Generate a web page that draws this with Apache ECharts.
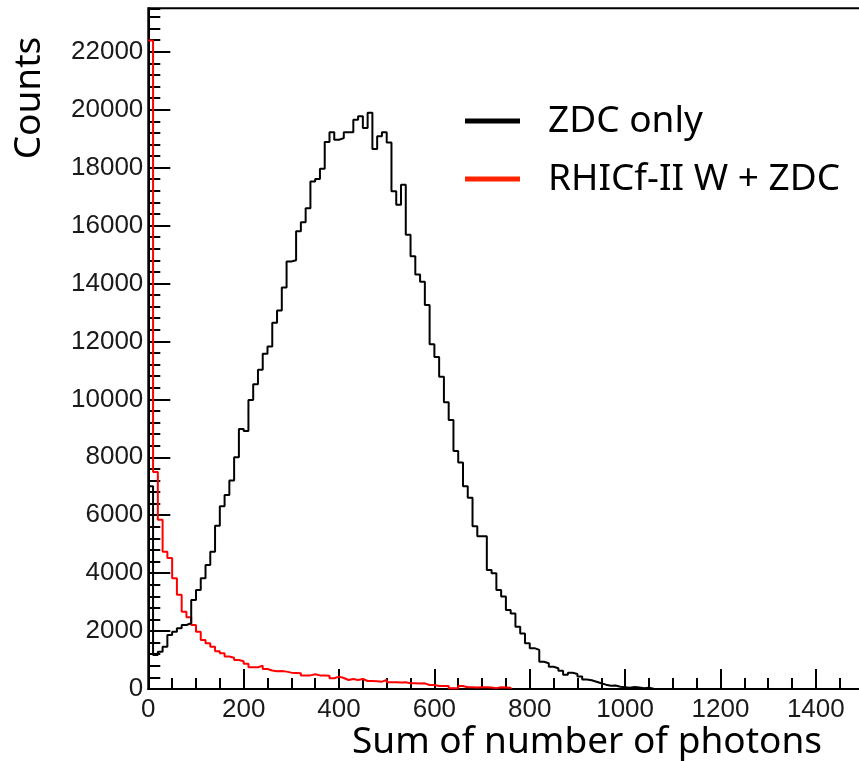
<!DOCTYPE html>
<html>
<head>
<meta charset="utf-8">
<script src="https://cdn.jsdelivr.net/npm/echarts@6/dist/echarts.min.js"></script>
<style>
  html, body { margin: 0; padding: 0; background: #ffffff; }
  #chart { width: 859px; height: 761px; }
</style>
</head>
<body>
<div id="chart"></div>
<script>
// Histogram binning (photon-sum axis), 10 photons per bin starting at 0
const binStart = 0;
const binWidth = 10;

// Counts per bin, ZDC only
const zdcOnly = [
  7000, 1175, 1290, 1460, 1865, 1980, 2100, 2210, 2270, 3070,
  3420, 3820, 4280, 4740, 5640, 6310, 6700, 7200, 8000, 8980,
  8910, 9980, 10520, 11020, 11570, 11820, 12640, 13070, 13860, 14760,
  14800, 15800, 16110, 16600, 17520, 17610, 17960, 18880, 19220, 18960,
  19020, 19220, 19220, 19650, 19770, 19370, 19890, 18640, 19080, 19220,
  18870, 17180, 16720, 17410, 15680, 14940, 14310, 14060, 13260, 11900,
  11460, 10780, 9900, 9290, 8220, 7820, 7000, 6600, 5620, 5270,
  5270, 4110, 4000, 3420, 3190, 2730, 2610, 2150, 1920, 1580,
  1410, 1350, 940, 890, 770, 715, 630, 490, 560, 520,
  430, 330, 300, 250, 200, 150, 110, 120, 80, 60,
  40, 70, 50, 30, 40, 10
];

// Counts per bin, RHICf-II W + ZDC
const rhicfWZdc = [
  22390, 7490, 5840, 4740, 4520, 3820, 3250, 2670, 2480, 2210,
  1980, 1690, 1580, 1460, 1300, 1230, 1120, 1080, 1000, 960,
  870, 750, 750, 806, 690, 640, 610, 620, 600, 565,
  555, 540, 470, 470, 507, 470, 465, 460, 370, 426,
  380, 311, 345, 311, 345, 276, 280, 270, 253, 311,
  230, 235, 225, 230, 196, 200, 190, 196, 138, 140,
  104, 100, 104, 23, 25, 104, 58, 60, 55, 58,
  60, 55, 30, 58, 55, 40
];

const seriesNames = ['ZDC only', 'RHICf-II W + ZDC'];

const xRange = [0, 1500];
const yRange = [0, 23500];

// Turn bin contents into step outline points: [lowEdge, count], closed down to zero.
function histOutline(values) {
  const pts = values.map((v, i) => [binStart + i * binWidth, v]);
  pts.push([binStart + values.length * binWidth, 0]);
  return pts;
}

const chart = echarts.init(document.getElementById('chart'), null, { renderer: 'canvas' });

const tickFont = {
  fontFamily: 'Liberation Sans, Arial, sans-serif', fontSize: 26, color: '#1a1a1a',
  formatter: v => String(v)
};
const lineBlack = { color: '#000', width: 2 };

chart.setOption({
  animation: false,
  backgroundColor: '#ffffff',
  grid: {
    left: 148.3,
    right: -4.5,
    top: 8.3,
    bottom: 72,
    show: true,
    borderColor: '#000',
    borderWidth: 2,
    backgroundColor: 'transparent',
    containLabel: false,
    outerBoundsMode: 'none'
  },
  xAxis: [
    {
      type: 'value', min: xRange[0], max: xRange[1], interval: 200, position: 'bottom',
      axisLine: { show: true, onZero: false, lineStyle: lineBlack },
      axisTick: { show: true, inside: true, length: 20, lineStyle: lineBlack },
      axisLabel: Object.assign({ margin: 8, showMaxLabel: false }, tickFont),
      splitLine: { show: false }
    },
    {
      type: 'value', min: xRange[0], max: xRange[1], interval: 50, position: 'bottom',
      axisLine: { show: false, onZero: false },
      axisTick: { show: true, inside: true, length: 11, lineStyle: lineBlack },
      axisLabel: { show: false },
      splitLine: { show: false }
    }
  ],
  yAxis: [
    {
      type: 'value', min: yRange[0], max: yRange[1], interval: 2000, position: 'left',
      axisLine: { show: true, onZero: false, lineStyle: lineBlack },
      axisTick: { show: true, inside: true, length: 22, lineStyle: lineBlack },
      axisLabel: Object.assign({ margin: 5, showMaxLabel: false }, tickFont),
      splitLine: { show: false }
    },
    {
      type: 'value', min: yRange[0], max: yRange[1], interval: 400, position: 'left',
      axisLine: { show: false, onZero: false },
      axisTick: { show: true, inside: true, length: 12, lineStyle: lineBlack },
      axisLabel: { show: false },
      splitLine: { show: false }
    }
  ],
  legend: {
    orient: 'vertical',
    left: 465,
    top: 99,
    padding: 0,
    icon: 'rect',
    itemWidth: 55,
    itemHeight: 5,
    itemGap: 14,
    selectedMode: false,
    textStyle: {
      fontFamily: 'Noto Sans', fontSize: 37, color: '#000',
      lineHeight: 44, padding: [0, 0, 0, 23]
    },
    data: [
      { name: seriesNames[0], itemStyle: { color: '#000000' } },
      { name: seriesNames[1], itemStyle: { color: '#ff2200' } }
    ]
  },
  graphic: [
    {
      type: 'text', x: 29, y: 98, rotation: Math.PI / 2,
      style: {
        text: 'Counts', fontFamily: 'Noto Sans', fontSize: 37, fill: '#000',
        align: 'center', verticalAlign: 'middle'
      }
    },
    {
      type: 'text', x: 822, y: 742,
      style: {
        text: 'Sum of number of photons', fontFamily: 'Noto Sans', fontSize: 37, fill: '#000',
        align: 'right', verticalAlign: 'middle'
      }
    }
  ],
  series: [
    {
      name: seriesNames[0], type: 'line', step: 'end', xAxisIndex: 0, yAxisIndex: 0,
      data: histOutline(zdcOnly), showSymbol: false, symbol: 'none', z: 4,
      lineStyle: { color: '#000000', width: 2 }, itemStyle: { color: '#000000' }
    },
    {
      name: seriesNames[1], type: 'line', step: 'end', xAxisIndex: 0, yAxisIndex: 0,
      data: histOutline(rhicfWZdc), showSymbol: false, symbol: 'none', z: 3,
      lineStyle: { color: '#ff0000', width: 2 }, itemStyle: { color: '#ff0000' }
    }
  ]
});
</script>
</body>
</html>
